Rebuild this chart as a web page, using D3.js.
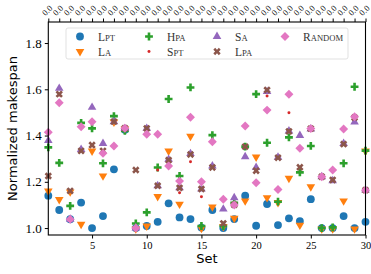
<!DOCTYPE html>
<html><head><meta charset="utf-8">
<script src="https://cdn.jsdelivr.net/npm/d3@7"></script>
<style>html,body{margin:0;padding:0;background:#fff;}svg{display:block;}</style>
</head><body>
<svg id="c" width="371" height="274"></svg>
<script>
const sets = d3.range(1, 31);
const xTicks = [5, 10, 15, 20, 25, 30];
const yTicks = [1.0, 1.2, 1.4, 1.6, 1.8];
const topLabels = sets.map(() => "0.0");

const lpt = [1.14,1.078,1.038,1.11,1.0,1.052,1.254,1.425,1.0,1.009,1.027,1.107,1.046,1.039,1.002,1.078,1.0,1.039,1.14,1.01,1.104,1.013,1.042,1.03,1.125,1.0,1.0,1.052,1.0,1.027];
const la = [1.164,1.127,1.16,1.02,1.337,1.229,1.462,1.432,1.0,1.012,1.14,1.337,1.107,1.4,1.003,1.095,1.01,1.046,1.121,1.311,1.135,1.114,1.219,1.016,1.182,1.0,1.0,1.121,1.0,1.337];
const hpa = [1.349,1.282,1.096,1.455,1.431,1.28,1.484,1.42,1.02,1.068,1.262,1.558,1.225,1.608,1.009,1.402,1.009,1.109,1.352,1.579,1.369,1.114,1.392,1.241,1.355,1.0,1.003,1.28,1.611,1.335];
const spt = [1.225,1.575,1.16,1.334,1.356,1.334,1.46,1.43,1.25,1.431,1.251,1.294,1.153,1.287,1.135,1.262,1.02,1.1,1.352,1.248,1.571,1.304,1.499,1.261,1.428,1.222,1.205,1.363,1.478,1.164];
const sa = [1.378,1.604,1.038,1.34,1.522,1.366,1.46,1.43,1.0,1.431,1.183,1.297,1.174,1.322,1.169,1.268,1.082,1.131,1.308,1.262,1.59,1.306,1.42,1.4,1.428,1.222,1.205,1.366,1.458,1.164];
const lpa = [1.225,1.579,1.161,1.334,1.359,1.334,1.46,1.432,1.251,1.431,1.183,1.294,1.174,1.318,1.169,1.262,1.02,1.1,1.352,1.248,1.597,1.304,1.418,1.263,1.43,1.222,1.208,1.363,1.478,1.164];
const random = [1.414,1.542,1.038,1.438,1.46,1.323,1.355,1.432,1.0,1.406,1.406,1.268,1.203,1.479,1.2,1.373,1.125,1.1,1.441,1.196,1.51,1.167,1.579,1.345,1.43,1.222,1.251,1.428,1.481,1.164];

const seriesNames = ["Lpt","La","Hpa","Spt","Sa","Lpa","Random"];
const seriesData = [lpt, la, hpa, spt, sa, lpa, random];
const colors = ["#1f77b4","#ff7f0e","#2ca02c","#d62728","#9467bd","#8c564b","#e377c2"];

const W = 371, H = 274;
const m = {left: 48.3, right: 365.5, top: 22, bottom: 235};
const svg = d3.select("#c");

const x = d3.scaleLinear().domain([1, 30]).range([m.left, m.right]);
const y = d3.scaleLinear().domain([0.97, 1.891]).range([m.bottom, m.top]);

// marker generators
const shapes = [
  {type: d3.symbolCircle, size: 48, rot: 0},
  {type: d3.symbolTriangle, size: 32, rot: 180},
  {type: d3.symbolCross, size: 34, rot: 0},
  {type: d3.symbolCircle, size: 7, rot: 0},
  {type: d3.symbolTriangle, size: 32, rot: 0},
  {type: d3.symbolCross, size: 34, rot: 45},
  {type: d3.symbolSquare, size: 40, rot: 45}
];
function sym(i){ return d3.symbol().type(shapes[i].type).size(shapes[i].size)(); }

// points
seriesData.forEach((vals, i) => {
  svg.append("g").selectAll("path").data(vals).join("path")
    .attr("d", sym(i))
    .attr("fill", colors[i])
    .attr("transform", (d, j) => `translate(${x(sets[j])},${y(d)}) rotate(${shapes[i].rot})${i===1?" translate(0,-0.8)":""}`);
});

// frame
svg.append("rect").attr("x", m.left).attr("y", m.top)
  .attr("width", m.right - m.left).attr("height", m.bottom - m.top)
  .attr("fill", "none").attr("stroke", "#000").attr("stroke-width", 1.1);

const serif = "'Liberation Serif','DejaVu Serif',serif";
// bottom axis
const gb = svg.append("g").attr("transform", `translate(0,${m.bottom})`)
  .call(d3.axisBottom(x).tickValues(xTicks).tickSize(3.5).tickPadding(3).tickFormat(d3.format("d")));
gb.select(".domain").remove();
gb.selectAll("text").attr("font-family", serif).attr("font-size", 10.5).attr("fill", "#000");
gb.selectAll("line").attr("stroke", "#000");

// left axis
const gl = svg.append("g").attr("transform", `translate(${m.left},0)`)
  .call(d3.axisLeft(y).tickValues(yTicks).tickSize(3.5).tickPadding(3).tickFormat(d3.format(".1f")));
gl.select(".domain").remove();
gl.selectAll("text").attr("font-family", serif).attr("font-size", 13).attr("fill", "#000");
gl.selectAll("line").attr("stroke", "#000");

// top axis
const gt = svg.append("g").attr("transform", `translate(0,${m.top})`)
  .call(d3.axisTop(x).tickValues(sets).tickSize(3.5).tickFormat((d, i) => topLabels[i]));
gt.select(".domain").remove();
gt.selectAll("line").attr("stroke", "#000");
gt.selectAll("text")
  .attr("font-family", serif).attr("font-size", 8.5).attr("fill", "#000")
  .attr("text-anchor", "middle").attr("dy", 0).attr("y", 0)
  .attr("transform", "translate(-1,-11) rotate(-45)")
  .attr("dominant-baseline", "middle");

// axis labels
const sans = "'DejaVu Sans','Liberation Sans',sans-serif";
svg.append("text").attr("x", (m.left + m.right) / 2).attr("y", 263)
  .attr("text-anchor", "middle").attr("font-family", sans).attr("font-size", 13).text("Set");
svg.append("text").attr("transform", `translate(17,${(m.top + m.bottom) / 2}) rotate(-90)`)
  .attr("text-anchor", "middle").attr("font-family", sans).attr("font-size", 13).text("Normalized makespan");

// legend
const lg = svg.append("g");
lg.append("rect").attr("x", 66).attr("y", 28).attr("width", 282).attr("height", 31).attr("rx", 2)
  .attr("fill", "#fff").attr("fill-opacity", 0.8).attr("stroke", "#d9d9d9").attr("stroke-width", 0.8);
const colX = [80, 149, 217, 285];
const rowY = [36.5, 51.5];
seriesNames.forEach((name, i) => {
  const c = Math.floor(i / 2), r = i % 2;
  lg.append("path").attr("d", sym(i)).attr("fill", colors[i])
    .attr("transform", `translate(${colX[c]},${rowY[r]}) rotate(${shapes[i].rot})`);
  const t = lg.append("text").attr("x", colX[c] + 18).attr("y", rowY[r] + 4)
    .attr("font-family", serif).attr("font-size", 11.5).attr("fill", "#333");
  t.append("tspan").text(name[0]);
  t.append("tspan").attr("font-size", 8.6).text(name.slice(1).toUpperCase());
});
</script>
</body></html>
